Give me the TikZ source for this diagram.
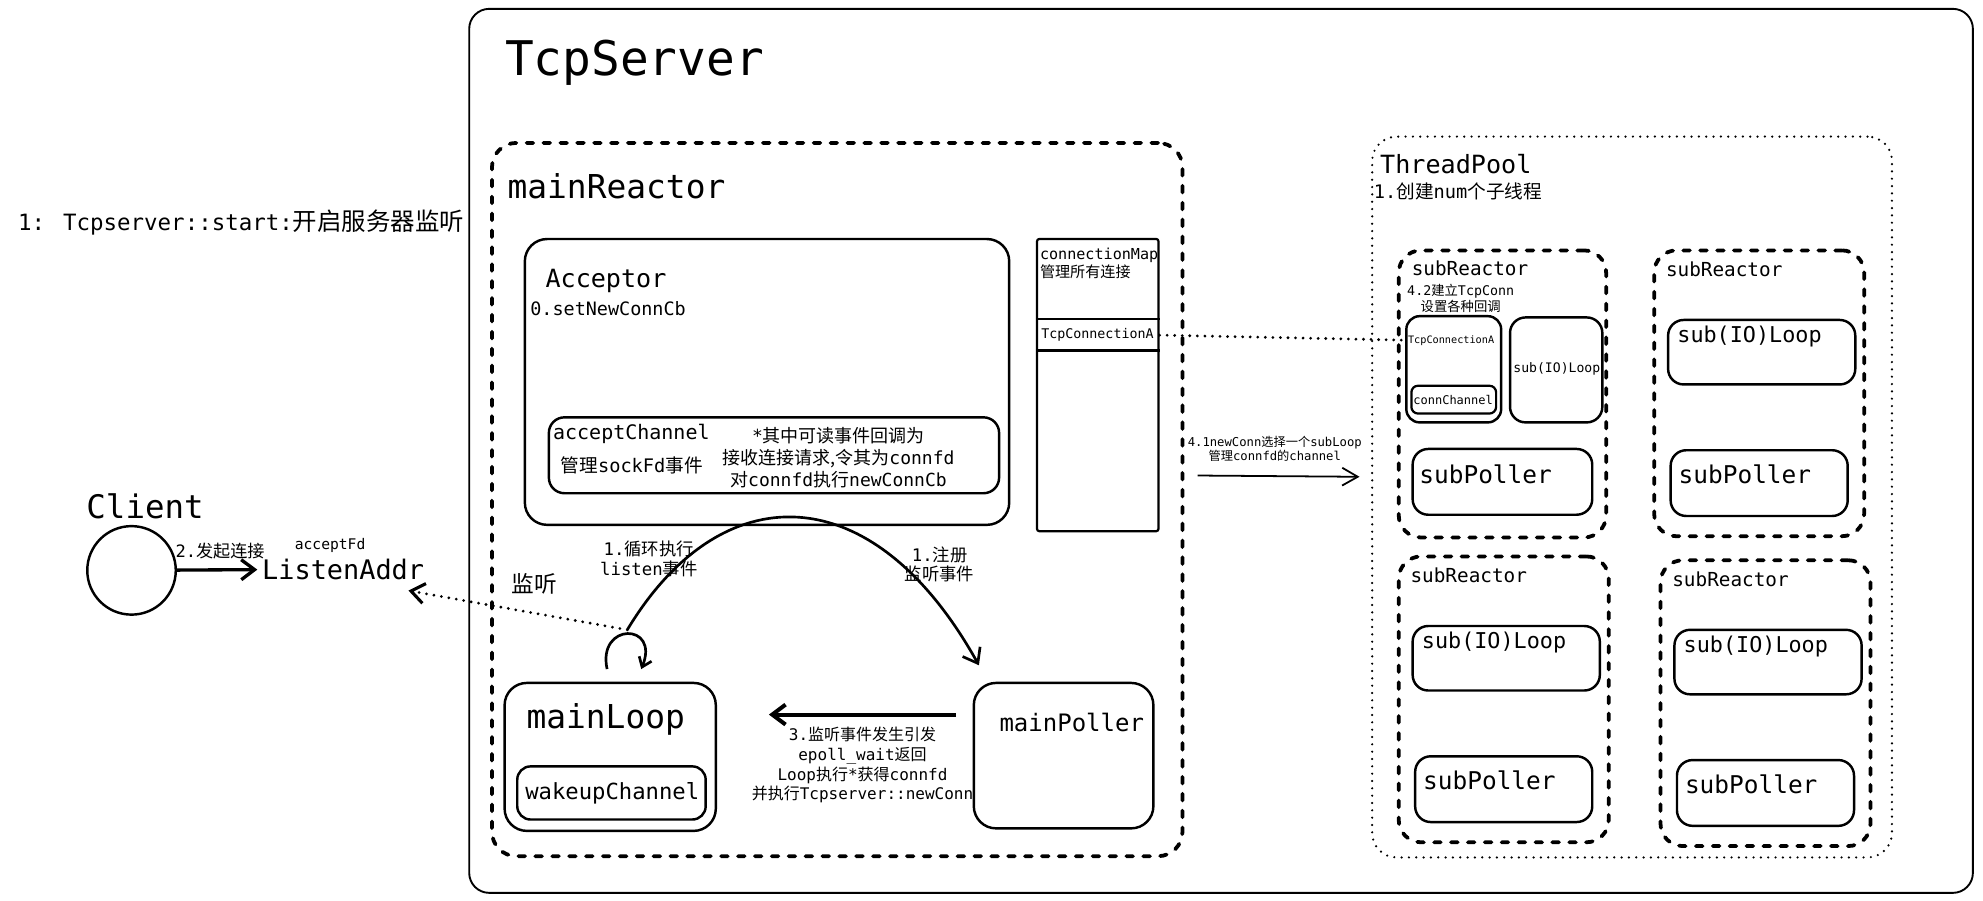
\documentclass[tikz,border=0pt]{standalone}
\usepackage{fontspec}
\setmainfont{DejaVu Sans Mono}
\newfontfamily\cjk{Noto Sans CJK SC}
\newcommand\zh[1]{{\cjk #1}}
\usetikzlibrary{fit,arrows.meta,calc}

\tikzset{
  px/.style={x=0.02cm,y=-0.02cm},
  box/.style={draw, line width=1.1pt, rounded corners=9pt, inner sep=0pt},
  inbox/.style={draw, line width=1pt, rounded corners=5pt, inner sep=0pt},
  dashbox/.style={draw, line width=1.7pt, line cap=round, dash pattern=on 3pt off 4.6pt, rounded corners=11pt, inner sep=0pt},
  dotbox/.style={draw, line width=1.1pt, line cap=round, dash pattern=on 0pt off 3.3pt, rounded corners=11pt, inner sep=0pt},
  dotline/.style={line width=1.4pt, line cap=round, dash pattern=on 0pt off 3.4pt},
  lbl/.style={inner sep=0pt, anchor=west},
  mid/.style={inner sep=0pt, align=center},
  fs/.style={font=\fontsize{#1}{#1}\selectfont},
  barb/.style={-{Straight Barb[length=6pt,width=9pt]}},
  sbarb/.style={-{Straight Barb[length=4pt,width=6pt]}},
}

\begin{document}
\begin{tikzpicture}[px]
\useasboundingbox (0,0) rectangle (1568,712.4);

% outer server frame
\node[box, line width=0.85pt, fit={(371,7) (1560,706)}] (server) {};
\node[lbl, fs=21.5] (serverT) at (399,50) {TcpServer};
\node[lbl, fs=10.1] (startT) at (14,176) {1: Tcpserver::start:{\fontsize{11}{11}\selectfont\zh{开启服务器监听}}};

% main reactor
\node[dashbox, fit={(389,113) (935,677)}] (mainR) {};
\node[lbl, fs=14.8] (mainRT) at (401,147) {mainReactor};

% acceptor
\node[box, rounded corners=10pt, fit={(415,189) (798,415)}] (acc) {};
\node[lbl, fs=11.3] (accT) at (431,222) {Acceptor};
\node[lbl, fs=8.3] (accCb) at (419,244) {0.setNewConnCb};
\node[box, rounded corners=7pt, fit={(434,330) (790,390)}] (accCh) {};
\node[lbl, fs=9] (accChT) at (437,343) {acceptChannel};
\node[lbl, fs=8.4] (accChS) at (443,368) {\zh{管理}sockFd\zh{事件}};
\node[mid, font=\fontsize{8.1}{9.9}\selectfont] (accChN) at (663,362)
  {*\zh{其中可读事件回调为}\\\zh{接收连接请求,令其为}connfd\\\zh{对}connfd\zh{执行}newConnCb};

% connection map
\node[draw, line width=1pt, rounded corners=1pt, inner sep=0pt, fit={(820,189) (916,420)}] (cmap) {};
\draw[line width=1pt] ($(cmap.north west)+(0,64)$) -- ($(cmap.north east)+(0,64)$);
\draw[line width=1pt] ($(cmap.north west)+(0,89)$) -- ($(cmap.north east)+(0,89)$);
\node[inner sep=0pt, anchor=north west, align=left, font=\fontsize{6.8}{7.9}\selectfont] (cmapT) at (822,196)
  {connectionMap\\\zh{管理所有连接}};
\node[lbl, fs=6] (tcA) at (823,265) {TcpConnectionA};

% client side
\node[lbl, fs=14.6] (clientT) at (68,400) {Client};
\node[draw, circle, line width=1.1pt, minimum size=1.4cm, inner sep=0pt] (client) at (104,451) {};
\node[lbl, fs=12.1] (listen) at (207,450) {ListenAddr};
\node[mid, fs=6.6] (accFd) at (261,431) {acceptFd};
\draw[line width=1.5pt, barb, shorten >=2pt] (client) -- (listen);
\node[mid, fs=7.7] (connT) at (174,436) {2.\zh{发起连接}};

% main loop and poller
\node[box, rounded corners=10pt, fit={(399,540) (566,657)}] (mainL) {};
\node[lbl, fs=14.8] (mainLT) at (416,569) {mainLoop};
\node[box, rounded corners=6pt, fit={(409,606) (558,648)}] (wake) {};
\node[lbl, fs=10] (wakeT) at (415,627) {wakeupChannel};
\node[box, rounded corners=10pt, fit={(770,540) (912,655)}] (mainP) {};
\node[lbl, fs=10.8] (mainPT) at (790,571) {mainPoller};

\coordinate (ltop) at (496,498);
\coordinate (loopA) at ($(mainL.north west)+(82,-10)$);
\coordinate (loopB) at ($(mainL.north west)+(109,-10)$);
\coordinate (arcEnd) at ($(mainP.north west)+(5,-13)$);
\coordinate (lend) at (323,467);
\draw[line width=1.2pt, sbarb] (loopA) .. controls (472,492) and (522,492) .. (loopB);
\draw[line width=1.2pt, barb] (ltop) .. controls (570,375) and (690,375) .. (arcEnd);
\draw[dotline, barb] (ltop) -- (lend);
\node[lbl, fs=10.2] (listenT) at (404,462) {\zh{监听}};
\node[mid, font=\fontsize{7.8}{9}\selectfont] (loopT) at (513,442) {1.\zh{循环执行}\\listen\zh{事件}};
\node[mid, font=\fontsize{7.8}{8.6}\selectfont] (regT) at (743,446) {1.\zh{注册}\\\zh{监听事件}};

\draw[line width=1.8pt, barb] ($(mainP.north west)+(-13,26)$) -- ($(mainL.north east)+(41,26)$);
\node[mid, font=\fontsize{7.2}{8.8}\selectfont] (pollT) at (682,605)
  {3.\zh{监听事件发生引发}\\epoll\_wait\zh{返回}\\Loop\zh{执行}*\zh{获得}connfd\\\zh{并执行}Tcpserver::newConn};

% thread pool
\node[dotbox, fit={(1085,108) (1496,678)}] (pool) {};
\node[lbl, fs=11.3] (poolT) at (1091,130) {ThreadPool};
\node[lbl, fs=8.4] (poolN) at (1086,151) {1.\zh{创建}num\zh{个子线程}};

\coordinate (a41s) at (947,376);
\coordinate (a41e) at (1075,377);
\draw[line width=0.8pt, -{Straight Barb[length=7pt,width=8pt]}] (a41s) -- (a41e);
\node[mid, font=\fontsize{5.5}{6.3}\selectfont] (a41T) at (1008,355) {4.1newConn\zh{选择一个}subLoop\\\zh{管理}connfd\zh{的}channel};

% first sub reactor
\node[dashbox, rounded corners=10pt, fit={(1106,198) (1270,425)}] (sr1) {};
\node[lbl, fs=8.7] (srT1) at (1116,212) {subReactor};
\node[mid, font=\fontsize{6}{7.4}\selectfont] (srN1) at (1155,236) {4.2\zh{建立}TcpConn\\\zh{设置各种回调}};
\node[box, rounded corners=6pt, fit={(1112,250) (1187,334)}] (subTc) {};
\node[lbl, fs=4.6] (subTcT) at (1113,269) {TcpConnectionA};
\node[inbox, rounded corners=3pt, fit={(1116,305) (1183,327)}] (subCh) {};
\node[mid, fs=5.4] (subChT) at (1149,316) {connChannel};
\node[box, rounded corners=7pt, fit={(1194,251) (1267,334)}] (io1) {};
\node[mid, fs=5.9] (ioT1) at (1231,292) {sub(IO)Loop};
\node[box, rounded corners=7pt, fit={(1117,355) (1259,407)}] (sp1) {};
\node[lbl, fs=11] (spT1) at (1122,375) {subPoller};
\draw[dotline] (cmap.east |- tcA) -- (subTcT.west);

% the other sub reactors
\foreach \bx/\by/\i in {1308/198/2, 1106/440/3, 1313/443/4}{
  \node[dashbox, rounded corners=10pt, fit={(\bx,\by) (\bx+166,\by+226)}] (sr\i) {};
  \node[lbl, fs=8.7] (srT\i) at (\bx+9,\by+15) {subReactor};
  \node[box, rounded corners=7pt, fit={(\bx+11,\by+55) (\bx+159,\by+106)}] (io\i) {};
  \node[lbl, fs=9.8] (ioT\i) at (\bx+18,\by+68) {sub(IO)Loop};
  \node[box, rounded corners=7pt, fit={(\bx+13,\by+158) (\bx+153,\by+210)}] (sp\i) {};
  \node[lbl, fs=11] (spT\i) at (\bx+19,\by+177) {subPoller};
}
\end{tikzpicture}
\end{document}
